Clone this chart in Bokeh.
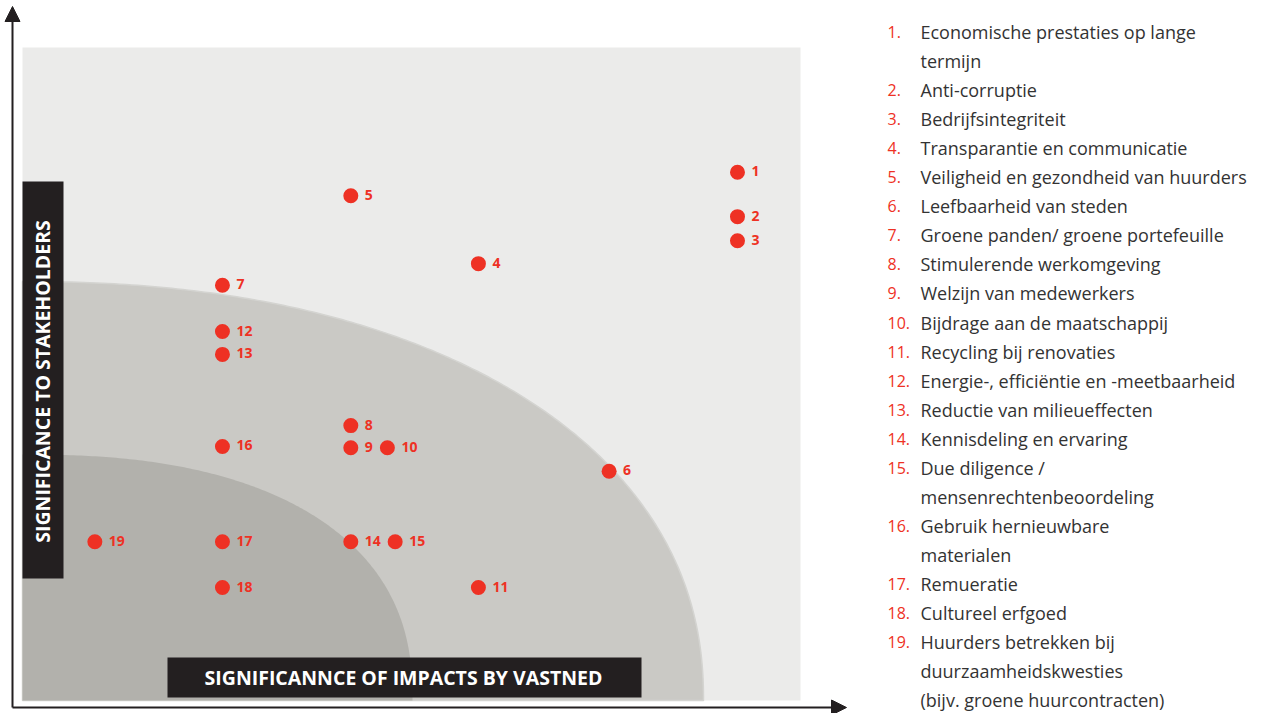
import numpy as np
from bokeh.plotting import figure
from bokeh.models import Range1d, ColumnDataSource, Arrow, NormalHead
from bokeh.core.properties import value
from bokeh.embed import file_html
from bokeh.resources import INLINE

# ---------------- data ----------------
ids = [str(i) for i in range(1, 20)]
impact = [9.19, 9.19, 9.19, 5.86, 4.22, 7.54, 2.57, 4.22, 4.22, 4.69,
          5.86, 2.57, 2.57, 4.22, 4.79, 2.57, 2.57, 2.57, 0.93]
significance = [8.09, 7.41, 7.04, 6.69, 7.73, 3.51, 6.36, 4.21, 3.87, 3.87,
                1.73, 5.65, 5.30, 2.43, 2.43, 3.89, 2.43, 1.73, 2.43]
legend_items = [
    ["Economische prestaties op lange", "termijn"],
    ["Anti-corruptie"],
    ["Bedrijfsintegriteit"],
    ["Transparantie en communicatie"],
    ["Veiligheid en gezondheid van huurders"],
    ["Leefbaarheid van steden"],
    ["Groene panden/ groene portefeuille"],
    ["Stimulerende werkomgeving"],
    ["Welzijn van medewerkers"],
    ["Bijdrage aan de maatschappij"],
    ["Recycling bij renovaties"],
    ["Energie-,  efficiëntie en -meetbaarheid"],
    ["Reductie van milieueffecten"],
    ["Kennisdeling en ervaring"],
    ["Due diligence /", "mensenrechtenbeoordeling"],
    ["Gebruik hernieuwbare", "materialen"],
    ["Remueratie"],
    ["Cultureel erfgoed"],
    ["Huurders betrekken bij", "duurzaamheidskwesties", "(bijv. groene huurcontracten)"],
]
x_title = "SIGNIFICANNCE OF IMPACTS BY VASTNED"
y_title = "SIGNIFICANCE TO STAKEHOLDERS"

# ---------------- layout helpers (page pixel -> data units) ----------------
X0, XS = 22.0, 77.8     # panel left edge, px per impact unit
Y0, YS = 700.0, 65.3    # panel bottom edge, px per significance unit


def px(x):
    return (x - X0) / XS


def py(y):
    return (Y0 - y) / YS


W, H = 1260, 713
p = figure(width=W, height=H, output_backend="svg", toolbar_location=None,
           x_range=Range1d(px(0), px(W)), y_range=Range1d(py(H), py(0)),
           min_border=0, outline_line_color=None,
           background_fill_color="white", border_fill_color="white")
p.axis.visible = False
p.grid.visible = False

# background panel
p.quad(left=px(22), right=px(800), bottom=py(700), top=py(47),
       fill_color="#ebebea", line_color=None)


def blob(a, b, n):
    t = np.linspace(0, np.pi / 2, 200)
    xs = a * np.cos(t) ** (2.0 / n)
    ys = b * np.sin(t) ** (2.0 / n)
    return np.concatenate([[0.0], xs, [0.0]]), np.concatenate([[0.0], ys, [0.0]])


mx, my = blob(681 / XS, 419 / YS, 2.2)
p.patch(mx, my, fill_color="#cac9c5", line_color="#d4d4d1", line_width=1.5)
ix, iy = blob(390 / XS, 246 / YS, 2.4)
p.patch(ix, iy, fill_color="#b2b1ac", line_color=None)

# axis title boxes
p.quad(left=px(22), right=px(63), bottom=py(578), top=py(181),
       fill_color="#231f20", line_color=None)
p.text(x=[px(42)], y=[py(381)], text=[y_title], angle=np.pi / 2,
       text_align="center", text_baseline="middle", text_color="white",
       text_font=value("Open Sans"), text_font_style="bold", text_font_size="19.5px")
p.quad(left=px(167), right=px(641), bottom=py(697), top=py(657),
       fill_color="#231f20", line_color=None)
p.text(x=[px(403)], y=[py(677)], text=[x_title],
       text_align="center", text_baseline="middle", text_color="white",
       text_font=value("Open Sans"), text_font_style="bold", text_font_size="19.5px")

# arrows (axes)
p.add_layout(Arrow(x_start=px(12), y_start=py(707), x_end=px(846), y_end=py(707),
                   line_width=2, line_color="#231f20",
                   end=NormalHead(size=15, fill_color="#231f20", line_color="#231f20")))
p.add_layout(Arrow(x_start=px(12), y_start=py(707), x_end=px(12), y_end=py(6),
                   line_width=2, line_color="#231f20",
                   end=NormalHead(size=15, fill_color="#231f20", line_color="#231f20")))

# points
src = ColumnDataSource(dict(x=impact, y=significance, id=ids))
p.scatter("x", "y", source=src, size=15, fill_color="#ee3124", line_color=None)
p.text("x", "y", text="id", source=src, x_offset=14, y_offset=-1,
       text_align="left", text_baseline="middle", text_color="#ee3124",
       text_font=value("Open Sans"), text_font_style="bold", text_font_size="14px")

# legend
nx, tx, ly, ls = [], [], [], []
num_txt, body_txt = [], []
line_y = 31.5
step = 29.05
for i, lines in enumerate(legend_items):
    nx.append(px(887))
    ly.append(py(line_y))
    num_txt.append(f"{i + 1}.")
    for ln in lines:
        tx.append(px(920))
        ls.append(py(line_y))
        body_txt.append(ln)
        line_y += step
p.text(x=nx, y=ly, text=num_txt, text_align="left", text_baseline="middle",
       text_color="#ee3124", text_font=value("Open Sans"), text_font_size="16px")
p.text(x=tx, y=ls, text=body_txt, text_align="left", text_baseline="middle",
       text_color="#333333", text_font=value("Open Sans"), text_font_size="18px")

open("out.html", "w").write(file_html(p, INLINE))
